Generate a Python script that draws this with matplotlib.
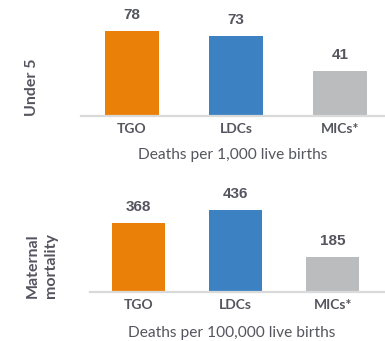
import matplotlib
matplotlib.use("Agg")
import matplotlib.pyplot as plt

# Данные
categories = ["TGO", "LDCs", "MICs*"]
under5 = [78, 73, 41]
maternal = [368, 436, 185]
bar_colors = ["#EB8008", "#3C82C3", "#BBBCBE"]
text_color = "#55555F"

W, H = 385, 341
fig = plt.figure(figsize=(W / 100, H / 100), dpi=100)


# Оси в пиксельных координатах
def make_axes(left, baseline, right, top):
    return fig.add_axes([left / W, (H - baseline) / H, (right - left) / W, (baseline - top) / H])


def draw_panel(ax, values, xlim, ylim, width, xlabel, xlabel_x, ylabel, ylabel_pos):
    x = range(len(values))
    ax.bar(x, values, width=width, color=bar_colors)
    ax.set_xlim(*xlim)
    ax.set_ylim(*ylim)
    for i, v in enumerate(values):
        ax.annotate(str(v), (i, v), xytext=(0, 11.5), textcoords="offset points",
                    ha="center", va="center", fontsize=11, fontweight="bold",
                    color=text_color, family="Liberation Sans")
    ax.set_xticks(list(x))
    ax.set_xticklabels(categories, fontsize=10, fontweight="bold", color=text_color, family="Lato")
    ax.tick_params(axis="x", length=0, pad=5)
    ax.set_yticks([])
    for s in ["top", "right", "left"]:
        ax.spines[s].set_visible(False)
    ax.spines["bottom"].set_color("#DADADA")
    ax.spines["bottom"].set_linewidth(1.6)
    ax.set_xlabel(xlabel, fontsize=11.2, color=text_color, family="Lato", va="center")
    ax.xaxis.set_label_coords(xlabel_x[0], xlabel_x[1])
    ax.set_ylabel(ylabel, fontsize=11.5, fontweight="bold", color=text_color, family="Lato",
                  va="center", ha="center", linespacing=1.35)
    ax.yaxis.set_label_coords(ylabel_pos[0], ylabel_pos[1])
    ax.patch.set_visible(False)


ax1 = make_axes(81, 116, 385, 10)
draw_panel(ax1, under5, (-0.49, 2.43), (0, 106 / 1.09), 0.52,
           "Deaths per 1,000 live births", (0.498, -39 / 106),
           "Under 5", (-0.161, 0.274))

ax2 = make_axes(90, 291.7, 385, 190)
draw_panel(ax2, maternal, (-0.5, 2.54), (0, 101.7 / 0.1875), 0.546,
           "Deaths per 100,000 live births", (0.48, -41.5 / 101.7),
           "Maternal\nmortality", (-0.164, 0.26))

fig.savefig("out.png", dpi=100)
